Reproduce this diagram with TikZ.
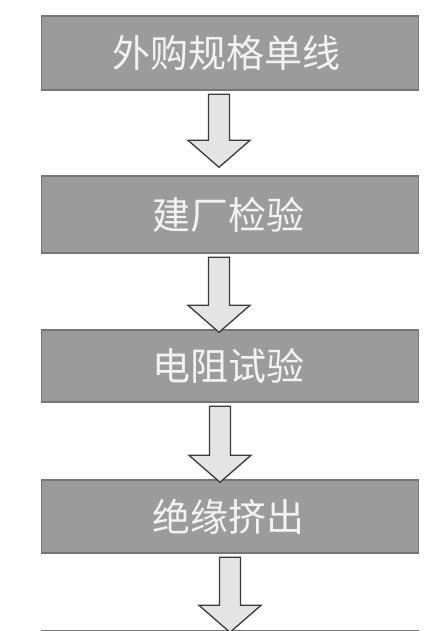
\documentclass[tikz,border=0pt]{standalone}
\usepackage{fontspec}
\newfontfamily\cjk{Noto Sans CJK SC}
\usetikzlibrary{calc}
\definecolor{boxfill}{HTML}{9B9B9B}
\definecolor{boxline}{HTML}{767676}
\definecolor{boxtext}{HTML}{F2F2F2}
\definecolor{arrfill}{HTML}{E4E4E4}
\definecolor{arrline}{HTML}{3A3A3A}
\tikzset{
  stepbox/.style={draw=boxline, fill=boxfill, line width=1.4pt,
    minimum width=377pt, inner sep=0pt, text=boxtext,
    font=\cjk\fontsize{38}{38}\selectfont},
  blockarr/.style={draw=arrline, fill=arrfill, line width=1.3pt, line join=miter}
}
\newcommand\flowarrow[4]{%
  \draw[blockarr]
    ($(#1.south)+(#3-10.5,3.5)$) -- ($(#1.south)+(#3+10.5,3.5)$)
    -- ($(#2.north)+(#3+10.5,#4-27)$) -- ($(#2.north)+(#3+31,#4-27)$)
    -- ($(#2.north)+(#3,#4)$)
    -- ($(#2.north)+(#3-31,#4-27)$) -- ($(#2.north)+(#3-10.5,#4-27)$) -- cycle;}
\begin{document}
\begin{tikzpicture}[x=1pt,y=-1pt]
  \clip (0,0) rectangle (435,631);
  \fill[white] (0,0) rectangle (435,631);
  \node[stepbox, minimum height=74pt] (b1) at (230,53) {\makebox[0pt]{\hspace*{-8pt}外购规格单线}};
  \node[stepbox, minimum height=77pt] (b2) at (230,214.5) {\makebox[0pt]{\hspace*{-4pt}建厂检验}};
  \node[stepbox, minimum height=72pt] (b3) at (230,366) {\makebox[0pt]{\hspace*{-4pt}电阻试验}};
  \node[stepbox, minimum height=73pt] (b4) at (230,516.5) {\makebox[0pt]{\hspace*{-4pt}绝缘挤出}};
  \node[stepbox, minimum height=74pt] (b5) at (230,668) {};
  \flowarrow{b1}{b2}{-11}{-8}
  \flowarrow{b2}{b3}{-11}{3}
  \flowarrow{b3}{b4}{-10}{3}
  \flowarrow{b4}{b5}{0}{2}
\end{tikzpicture}
\end{document}
